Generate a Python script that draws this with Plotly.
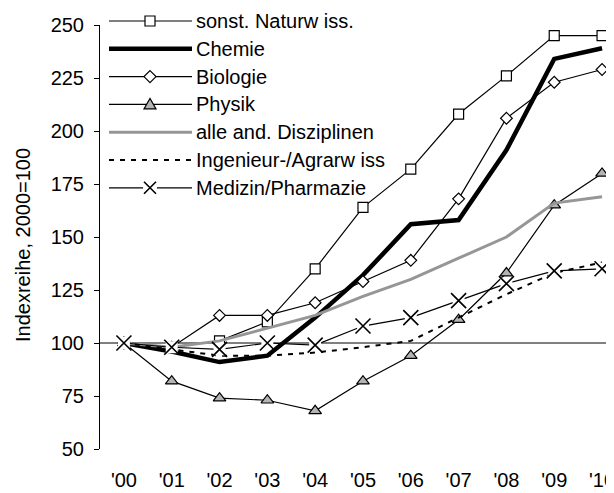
import plotly.graph_objects as go

years = ["'00", "'01", "'02", "'03", "'04", "'05", "'06", "'07", "'08", "'09", "'10"]
sonst_naturwiss = [100, 98, 101, 110, 135, 164, 182, 208, 226, 245, 245]
chemie = [100, 96, 91, 94, 112, 132, 156, 158, 191, 234, 239]
biologie = [100, 98, 113, 113, 119, 129, 139, 168, 206, 223, 229]
physik = [100, 82, 74, 73, 68, 82, 94, 111, 133, 165, 180]
alle_and = [100, 98, 101, 107, 113, 122, 130, 140, 150, 166, 169]
ingenieur = [100, 97, 94, 94, 95.5, 98, 101, 112, 123, 133, 138]
medizin = [100, 98, 97, 100, 99, 108, 112, 120, 128, 134, 135]

names = ["sonst. Naturw iss.", "Chemie", "Biologie", "Physik",
         "alle and. Disziplinen", "Ingenieur-/Agrarw iss", "Medizin/Pharmazie"]

FONT = "Liberation Sans, Arial, sans-serif"
OFF = 8  # browser body margin
W, H = 614 - OFF, 493 - OFF
# plot area in page pixels
L, R, T, B = 100, 614, 25, 449
GRAY = "#969696"
TRI = "#b4b4b4"

x = list(range(len(years)))
fig = go.Figure()

sq = dict(symbol="square", size=10, color="white", line=dict(color="black", width=1.2))
dm = dict(symbol="diamond", size=9, color="white", line=dict(color="black", width=1.2))
tr = dict(symbol="triangle-up", size=11, color=TRI, line=dict(color="black", width=1.2))
xb = dict(symbol="square", size=12, color="white", line=dict(width=0))
xm = dict(symbol="x-thin", size=15, color="black", line=dict(color="black", width=1.6))

fig.add_trace(go.Scatter(x=x, y=sonst_naturwiss, mode="lines+markers", line=dict(color="black", width=1.2), marker=sq))
fig.add_trace(go.Scatter(x=x, y=chemie, mode="lines", line=dict(color="black", width=4.5)))
fig.add_trace(go.Scatter(x=x, y=biologie, mode="lines+markers", line=dict(color="black", width=1.2), marker=dm))
fig.add_trace(go.Scatter(x=x, y=physik, mode="lines+markers", line=dict(color="black", width=1.2), marker=tr))
fig.add_trace(go.Scatter(x=x, y=alle_and, mode="lines", line=dict(color=GRAY, width=3)))
fig.add_trace(go.Scatter(x=x, y=ingenieur, mode="lines", line=dict(color="black", width=2, dash="5px,6px")))
fig.add_trace(go.Scatter(x=x, y=medizin, mode="lines+markers", line=dict(color="black", width=1.2), marker=xb))
fig.add_trace(go.Scatter(x=x, y=medizin, mode="markers", marker=xm))


def pxx(p):
    return (p - L) / (R - L)


def pxy(p):
    return (B - p) / (B - T)


rows = [21 + 27.8 * i for i in range(7)]
leg_styles = [
    dict(color="black", width=1.2),
    dict(color="black", width=4.5),
    dict(color="black", width=1.2),
    dict(color="black", width=1.2),
    dict(color=GRAY, width=3),
    dict(color="black", width=2, dash="5px,6px"),
    dict(color="black", width=1.2),
]
shapes = []
annotations = []
for i, (nm, st) in enumerate(zip(names, leg_styles)):
    y = rows[i]
    shapes.append(dict(type="line", xref="paper", yref="paper", x0=pxx(109), x1=pxx(192),
                       y0=pxy(y), y1=pxy(y), line=st, layer="below"))
    annotations.append(dict(text=nm, xref="paper", yref="paper", x=pxx(194), y=pxy(y),
                            xanchor="left", yanchor="middle", showarrow=False,
                            font=dict(family=FONT, size=20, color="black")))


def mshape(row, path, fill, lw=1.2):
    return dict(type="path", xref="paper", yref="paper", xsizemode="pixel", ysizemode="pixel",
                xanchor=pxx(150), yanchor=pxy(row), path=path, fillcolor=fill,
                line=dict(color="black", width=lw), layer="above")


shapes.append(mshape(rows[0], "M-5,-5L5,-5L5,5L-5,5Z", "white"))
shapes.append(mshape(rows[2], "M0,6L6,0L0,-6L-6,0Z", "white"))
shapes.append(mshape(rows[3], "M-6,-4.5L6,-4.5L0,6Z", TRI))
shapes.append(dict(type="path", xref="paper", yref="paper", xsizemode="pixel", ysizemode="pixel",
                   xanchor=pxx(150), yanchor=pxy(rows[6]), path="M-7,-7L7,-7L7,7L-7,7Z",
                   fillcolor="white", line=dict(width=0), layer="above"))
shapes.append(mshape(rows[6], "M-6,-6L6,6M-6,6L6,-6", "rgba(0,0,0,0)", 1.6))

# horizontal line at 100
shapes.append(dict(type="line", xref="paper", yref="y", x0=0, x1=1, y0=100, y1=100,
                   line=dict(color="black", width=1), layer="below"))

annotations.append(dict(text="Indexreihe, 2000=100", xref="paper", yref="paper",
                        x=pxx(23), y=pxy(245), textangle=-90, showarrow=False,
                        xanchor="center", yanchor="middle",
                        font=dict(family=FONT, size=20, color="black")))

fig.update_layout(
    width=W, height=H,
    margin=dict(l=L - OFF, r=W - (R - OFF), t=T - OFF, b=H - (B - OFF)),
    paper_bgcolor="white", plot_bgcolor="rgba(0,0,0,0)",
    showlegend=False,
    font=dict(family=FONT, size=20, color="black"),
    shapes=shapes, annotations=annotations,
    xaxis=dict(range=[-0.5, 10.25], tickvals=x, ticktext=years, showline=False, ticks="",
               showgrid=False, zeroline=False, ticklabelstandoff=17, ticklabeloverflow="allow",
               tickfont=dict(family=FONT, size=20, color="black")),
    yaxis=dict(range=[50, 250], tickvals=[50, 75, 100, 125, 150, 175, 200, 225, 250],
               showline=True, linecolor="black", linewidth=1, ticks="outside", ticklen=5,
               tickcolor="black", showgrid=False, zeroline=False, ticklabelstandoff=6,
               tickfont=dict(family=FONT, size=20, color="black")),
)

fig.write_html("out.html")
